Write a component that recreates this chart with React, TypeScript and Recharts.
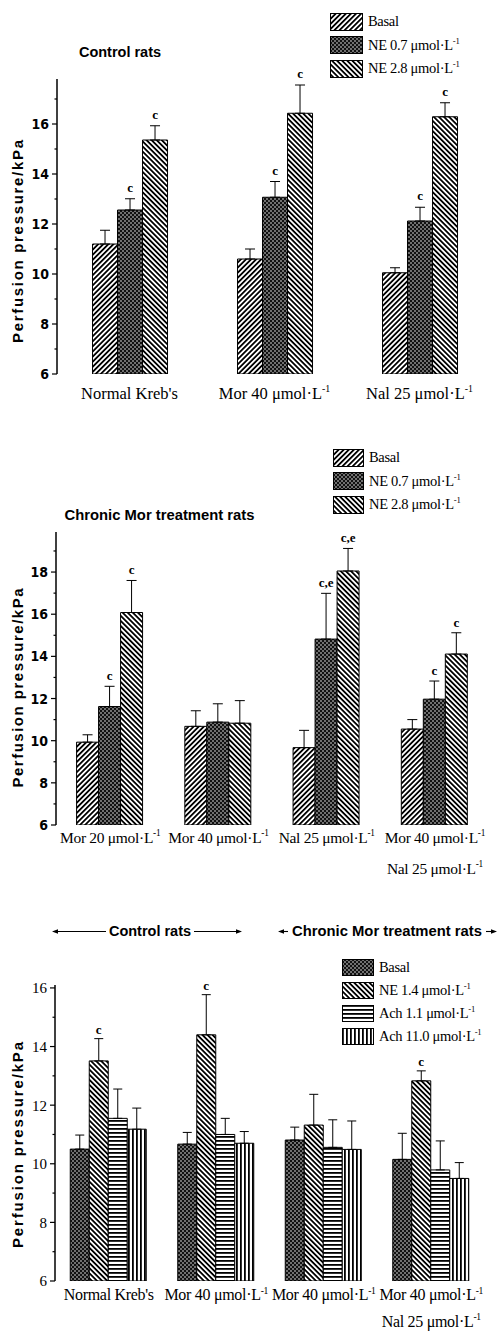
import React from 'react';
import { BarChart, Bar, XAxis, YAxis, ErrorBar, LabelList, Legend } from 'recharts';

const SERIF = '"Liberation Serif", "Times New Roman", serif';
const SANS = '"Liberation Sans", Arial, sans-serif';
const NARROW = '"Liberation Sans Narrow", "DejaVu Sans Condensed", "Liberation Sans", sans-serif';

// ---- panel 1: control rats
const groups1 = ["Normal Kreb's", 'Mor 40 μmol·L⁻¹', 'Nal 25 μmol·L⁻¹'];
const basal1 = [11.2, 10.6, 10.05];
const basal1Err = [0.55, 0.4, 0.2];
const ne07a = [12.56, 13.07, 12.12];
const ne07aErr = [0.45, 0.63, 0.55];
const ne07aSig = ['c', 'c', 'c'];
const ne28a = [15.36, 16.43, 16.29];
const ne28aErr = [0.57, 1.13, 0.56];
const ne28aSig = ['c', 'c', 'c'];

// ---- panel 2: chronic morphine treatment
const groups2 = ['Mor 20 μmol·L⁻¹', 'Mor 40 μmol·L⁻¹', 'Nal 25 μmol·L⁻¹', 'Mor 40 μmol·L⁻¹\nNal 25 μmol·L⁻¹'];
const basal2 = [9.93, 10.68, 9.67, 10.55];
const basal2Err = [0.35, 0.74, 0.82, 0.45];
const ne07b = [11.62, 10.88, 14.82, 11.97];
const ne07bErr = [0.96, 0.87, 2.17, 0.86];
const ne07bSig = ['c', '', 'c,e', 'c'];
const ne28b = [16.08, 10.83, 18.05, 14.11];
const ne28bErr = [1.52, 1.07, 1.07, 1.01];
const ne28bSig = ['c', '', 'c,e', 'c'];

// ---- panel 3: NE vs Ach
const groups3 = ["Normal Kreb's", 'Mor 40 μmol·L⁻¹', 'Mor 40 μmol·L⁻¹', 'Mor 40 μmol·L⁻¹\nNal 25 μmol·L⁻¹'];
const basal3 = [10.5, 10.67, 10.81, 10.15];
const basal3Err = [0.48, 0.4, 0.44, 0.89];
const ne14 = [13.51, 14.4, 11.32, 12.83];
const ne14Err = [0.76, 1.37, 1.05, 0.34];
const ne14Sig = ['c', 'c', '', 'c'];
const ach11 = [11.55, 11.0, 10.56, 9.79];
const ach11Err = [1.0, 0.55, 0.94, 0.99];
const ach110 = [11.18, 10.7, 10.49, 9.5];
const ach110Err = [0.72, 0.4, 0.97, 0.54];

interface Series {
  key: string;
  name: string;
  pat: string;
  values: number[];
  errs: number[];
  sig?: string[];
}

const series1: Series[] = [
  { key: 'basal', name: 'Basal', pat: 'up', values: basal1, errs: basal1Err },
  { key: 'ne07', name: 'NE 0.7 μmol·L⁻¹', pat: 'dots', values: ne07a, errs: ne07aErr, sig: ne07aSig },
  { key: 'ne28', name: 'NE 2.8 μmol·L⁻¹', pat: 'down', values: ne28a, errs: ne28aErr, sig: ne28aSig },
];
const series2: Series[] = [
  { key: 'basal', name: 'Basal', pat: 'up', values: basal2, errs: basal2Err },
  { key: 'ne07', name: 'NE 0.7 μmol·L⁻¹', pat: 'dots', values: ne07b, errs: ne07bErr, sig: ne07bSig },
  { key: 'ne28', name: 'NE 2.8 μmol·L⁻¹', pat: 'down', values: ne28b, errs: ne28bErr, sig: ne28bSig },
];
const series3: Series[] = [
  { key: 'basal', name: 'Basal', pat: 'dots', values: basal3, errs: basal3Err },
  { key: 'ne14', name: 'NE 1.4 μmol·L⁻¹', pat: 'down', values: ne14, errs: ne14Err, sig: ne14Sig },
  { key: 'ach11', name: 'Ach 1.1 μmol·L⁻¹', pat: 'h', values: ach11, errs: ach11Err },
  { key: 'ach110', name: 'Ach 11.0 μmol·L⁻¹', pat: 'v', values: ach110, errs: ach110Err },
];

function Pat({ id, kind }: { id: string; kind: string }) {
  if (kind === 'up' || kind === 'down') {
    return (
      <pattern id={id} width={3.6} height={3.6} patternUnits="userSpaceOnUse"
        patternTransform={`rotate(${kind === 'up' ? 45 : -45})`}>
        <rect width={3.6} height={3.6} fill="#fff" />
        <rect width={1.8} height={3.6} fill="#000" />
      </pattern>
    );
  }
  if (kind === 'dots') {
    return (
      <pattern id={id} width={4} height={4} patternUnits="userSpaceOnUse">
        <rect width={4} height={4} fill="#111" />
        <circle cx={1} cy={1} r={0.75} fill="#fff" />
        <circle cx={3} cy={3} r={0.75} fill="#fff" />
      </pattern>
    );
  }
  if (kind === 'h') {
    return (
      <pattern id={id} width={4} height={4} patternUnits="userSpaceOnUse">
        <rect width={4} height={4} fill="#fff" />
        <rect width={4} height={1.8} fill="#000" />
      </pattern>
    );
  }
  return (
    <pattern id={id} width={4} height={4} patternUnits="userSpaceOnUse">
      <rect width={4} height={4} fill="#fff" />
      <rect width={1.8} height={4} fill="#000" />
    </pattern>
  );
}

// splits a trailing "⁻¹" into a real superscript
function splitSup(s: string) {
  return s.endsWith('⁻¹') ? { main: s.slice(0, -2), sup: true } : { main: s, sup: false };
}

const xTick = (fs: number, dy1: number, gap: number, ls: number) => (p: any) => {
  const lines = String(p.payload.value).split('\n');
  return (
    <g>
      {lines.map((ln, i) => {
        const { main, sup } = splitSup(ln);
        return (
          <text key={i} x={p.x} y={p.y + dy1 + i * gap} textAnchor="middle" fontFamily={SERIF} fontSize={fs}
            letterSpacing={ls} fill="#000">
            {main}
            {sup && <tspan fontSize={fs * 0.6} dy={-fs * 0.42}>-1</tspan>}
          </text>
        );
      })}
    </g>
  );
};

const yTick = (font: { fontFamily: string; fontWeight: string; fontSize: number }) => (p: any) => {
  const v = p.payload.value;
  const major = v % 2 === 0;
  return (
    <g>
      <line x1={p.x - (major ? 5 : 2.5)} x2={p.x} y1={p.y} y2={p.y} stroke="#000" strokeWidth={1.2} />
      {major && (
        <text x={p.x - 8} y={p.y} dy="0.36em" textAnchor="end" fill="#000"
          fontFamily={font.fontFamily} fontWeight={font.fontWeight} fontSize={font.fontSize}>
          {v}
        </text>
      )}
    </g>
  );
};

const sigContent = (s: Series, base: number, lift: number) => (p: any) => {
  const vb = p.viewBox ?? p;
  const idx = p.index;
  if (!p.value || idx == null) return null;
  const ppu = vb.height / (s.values[idx] - base);
  const capY = vb.y - s.errs[idx] * ppu;
  return (
    <text x={vb.x + vb.width / 2} y={capY - lift} textAnchor="middle" fontFamily={SERIF}
      fontWeight="bold" fontSize={13} fill="#000">
      {p.value}
    </text>
  );
};

function LegendBox({ id, series, sw, rowH, fs }: { id: string; series: Series[]; sw: [number, number]; rowH: number; fs: number }) {
  return (
    <div style={{ fontFamily: SERIF, fontSize: fs, color: '#000' }}>
      {series.map((s, i) => {
        const { main, sup } = splitSup(s.name);
        const pid = `${id}-lg-${i}`;
        return (
          <div key={s.key} style={{ display: 'flex', alignItems: 'center', height: rowH, whiteSpace: 'nowrap' }}>
            <svg width={sw[0]} height={sw[1]} style={{ display: 'block' }}>
              <defs><Pat id={pid} kind={s.pat} /></defs>
              <rect x={0.5} y={0.5} width={sw[0] - 1} height={sw[1] - 1} fill={`url(#${pid})`} stroke="#000" />
            </svg>
            <span style={{ marginLeft: 5, letterSpacing: -0.3 }}>
              {main}
              {sup && <span style={{ fontSize: '0.6em', position: 'relative', top: '-0.7em' }}>-1</span>}
            </span>
          </div>
        );
      })}
    </div>
  );
}

interface PanelProps {
  id: string;
  top: number;
  height: number;
  groups: string[];
  series: Series[];
  domain: [number, number];
  ticks: number[];
  yWidth: number;
  right: number;
  marginTop: number;
  xHeight: number;
  catGap: string;
  capW: number;
  xFont: number;
  xDy: number;
  xGap: number;
  xLs: number;
  tickFont: { fontFamily: string; fontWeight: string; fontSize: number };
  legendTop: number;
  legendLeft: number;
  sw: [number, number];
  rowH: number;
  sigLift: number;
  children?: React.ReactNode;
}

function Panel(props: PanelProps) {
  const { id, series, groups, domain } = props;
  const rows = groups.map((name, i) => {
    const r: Record<string, unknown> = { name };
    series.forEach((s) => {
      r[s.key] = s.values[i];
      r[s.key + 'Err'] = [0, s.errs[i]];
      r[s.key + 'Sig'] = s.sig ? s.sig[i] : '';
    });
    return r;
  });
  return (
    <div style={{ position: 'absolute', top: props.top, left: 0, width: 501, height: props.height }}>
      <BarChart width={501} height={props.height} data={rows} barGap={0} barCategoryGap={props.catGap}
        margin={{ top: props.marginTop, right: props.right, left: 0, bottom: 0 }}>
        <defs>
          {['up', 'down', 'dots', 'h', 'v'].map((k) => <Pat key={k} id={`${id}-${k}`} kind={k} />)}
        </defs>
        <XAxis dataKey="name" axisLine={false} tickLine={false} tickSize={0} tickMargin={0}
          height={props.xHeight} interval={0} tick={xTick(props.xFont, props.xDy, props.xGap, props.xLs)} />
        <YAxis type="number" domain={domain} ticks={props.ticks} width={props.yWidth} allowDataOverflow
          interval={0} axisLine={{ stroke: '#000', strokeWidth: 1.5 }} tickLine={false} tickSize={0}
          tickMargin={0} tick={yTick(props.tickFont)} />
        <Legend layout="horizontal" verticalAlign="middle" align="center"
          wrapperStyle={{ top: props.legendTop, left: props.legendLeft, width: 'auto' }}
          content={() => <LegendBox id={id} series={series} sw={props.sw} rowH={props.rowH} fs={14.5} />} />
        {series.map((s) => (
          <Bar key={s.key} dataKey={s.key} name={s.name} fill={`url(#${id}-${s.pat})`} stroke="#000"
            strokeWidth={1} isAnimationActive={false}>
            <ErrorBar dataKey={s.key + 'Err'} direction="y" width={props.capW} stroke="#000" strokeWidth={1} />
            {s.sig && <LabelList dataKey={s.key + 'Sig'} content={sigContent(s, domain[0], props.sigLift)} />}
          </Bar>
        ))}
        {props.children}
      </BarChart>
    </div>
  );
}

function YLabel({ cy, len }: { cy: number; len: number }) {
  return (
    <text transform="rotate(-90)" x={-cy} y={23} textAnchor="middle" fontFamily={SANS} fontWeight="bold"
      fontSize={15} textLength={len} lengthAdjust="spacing" fill="#000">
      Perfusion pressure/kPa
    </text>
  );
}

function Arrow({ x1, x2, y }: { x1: number; x2: number; y: number }) {
  const d = x2 > x1 ? 1 : -1;
  return (
    <g>
      <line x1={x1} x2={x2 - d * 4} y1={y} y2={y} stroke="#000" strokeWidth={1.1} />
      <path d={`M${x2},${y} L${x2 - d * 6},${y - 2.2} L${x2 - d * 6},${y + 2.2} Z`} fill="#000" />
    </g>
  );
}

const boldTicks = { fontFamily: NARROW, fontWeight: 'bold', fontSize: 14 };
const plainTicks = { fontFamily: SERIF, fontWeight: 'normal', fontSize: 15 };

export default function App() {
  return (
    <div style={{ position: 'absolute', top: 0, left: 0, width: 501, height: 1332, background: '#fff' }}>
      <Panel id="p1" top={0} height={420} groups={groups1} series={series1} domain={[6, 17.8]}
        ticks={[6, 7, 8, 9, 10, 11, 12, 13, 14, 15, 16, 17]} yWidth={57} right={9} marginTop={79} xHeight={46}
        catGap="24.5%" capW={5} xFont={16.5} xDy={24.5} xGap={31} xLs={0} tickFont={boldTicks} legendTop={10}
        legendLeft={330} sw={[33, 18]} rowH={23.5} sigLift={7}>
        <text x={120} y={57} textAnchor="middle" fontFamily={SANS} fontWeight="bold" fontSize={14.5} fill="#000">
          Control rats
        </text>
        <YLabel cy={241.5} len={203} />
      </Panel>
      <Panel id="p2" top={420} height={470} groups={groups2} series={series2} domain={[6, 19.9]}
        ticks={[6, 7, 8, 9, 10, 11, 12, 13, 14, 15, 16, 17, 18, 19]} yWidth={56} right={12} marginTop={112}
        xHeight={65} catGap="19%" capW={5} xFont={15.5} xDy={18} xGap={31} xLs={-0.3} tickFont={boldTicks}
        legendTop={26} legendLeft={333} sw={[31, 18]} rowH={23.5} sigLift={6}>
        <text x={159.5} y={100} textAnchor="middle" fontFamily={SANS} fontWeight="bold" fontSize={14.8} fill="#000">
          Chronic Mor treatment rats
        </text>
        <YLabel cy={268} len={199} />
      </Panel>
      <Panel id="p3" top={900} height={432} groups={groups3} series={series3} domain={[6, 16.1]}
        ticks={[6, 7, 8, 9, 10, 11, 12, 13, 14, 15, 16]} yWidth={55} right={16} marginTop={85} xHeight={51}
        catGap="14.2%" capW={4.5} xFont={16} xDy={19.3} xGap={26.5} xLs={-0.3} tickFont={plainTicks}
        legendTop={56} legendLeft={342} sw={[32, 17]} rowH={23} sigLift={5}>
        <Arrow x1={106} x2={52} y={31.5} />
        <text x={150} y={36} textAnchor="middle" fontFamily={SANS} fontWeight="bold" fontSize={14.5} fill="#000">
          Control rats
        </text>
        <Arrow x1={194} x2={242} y={31.5} />
        <Arrow x1={288} x2={278} y={31.5} />
        <text x={387} y={36} textAnchor="middle" fontFamily={SANS} fontWeight="bold" fontSize={14.8} fill="#000">
          Chronic Mor treatment rats
        </text>
        <Arrow x1={486} x2={497} y={31.5} />
        <YLabel cy={245} len={206} />
      </Panel>
    </div>
  );
}
